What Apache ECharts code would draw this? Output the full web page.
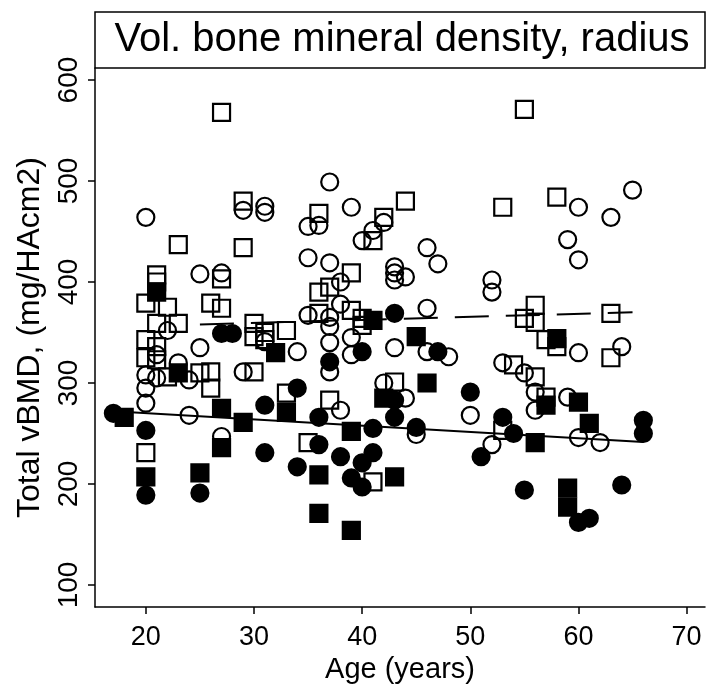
<!DOCTYPE html>
<html>
<head>
<meta charset="utf-8">
<script src="https://cdn.jsdelivr.net/npm/echarts@6/dist/echarts.min.js"></script>
<style>
  html, body { margin: 0; padding: 0; background: #fff; }
  #chart { width: 706px; height: 687px; }
</style>
</head>
<body>
<div id="chart"></div>
<script>
// [age, vBMD] for each group
var openCircles = [
    [20, 464], [29, 471], [31, 475], [31, 469], [25, 408], [27, 409], [22, 352], [25, 335],
    [21, 328], [20, 308], [20, 295], [20, 280], [21, 305], [23, 320], [24, 303], [29, 311],
    [24, 268], [27, 247], [31, 341], [37, 499], [39, 474], [35, 455], [36, 456], [42, 459],
    [41, 451], [40, 441], [46, 434], [47, 418], [35, 424], [37, 419], [38, 400], [43, 415],
    [43, 409], [43, 402], [44, 405], [38, 378], [35, 367], [37, 365], [37, 356], [46, 374],
    [37, 340], [39, 345], [34, 331], [37, 311], [39, 328], [43, 335], [46, 331], [48, 326],
    [42, 300], [44, 285], [38, 273], [45, 249], [65, 491], [63, 464], [60, 474], [59, 442],
    [60, 422], [52, 402], [52, 390], [60, 330], [64, 336], [53, 320], [55, 310], [56, 291],
    [56, 273], [59, 286], [50, 268], [60, 246], [62, 241], [52, 239]
];
var openSquares = [
    [27, 568], [55, 571], [29, 480], [23, 437], [29, 434], [21, 407], [21, 400], [27, 403],
    [20, 379], [22, 375], [26, 379], [27, 374], [21, 359], [23, 359], [30, 359], [30, 346],
    [31, 343], [20, 343], [21, 336], [20, 325], [21, 323], [22, 306], [25, 310], [26, 311],
    [26, 295], [30, 311], [20, 231], [36, 468], [44, 480], [42, 464], [41, 441], [39, 409],
    [36, 390], [37, 395], [36, 369], [39, 372], [40, 364], [40, 357], [33, 352], [31, 350],
    [43, 301], [33, 290], [37, 283], [35, 241], [41, 202], [53, 474], [58, 484], [56, 377],
    [55, 364], [56, 360], [63, 369], [57, 343], [58, 336], [63, 325], [54, 318], [56, 306],
    [57, 286], [53, 253]
];
var filledCircles = [
    [17, 270], [20, 253], [20, 189], [25, 191], [27, 349], [28, 349], [31, 278], [31, 231],
    [37, 321], [40, 331], [34, 295], [43, 283], [36, 266], [43, 266], [45, 256], [41, 255],
    [36, 239], [34, 217], [38, 227], [41, 231], [40, 221], [39, 206], [40, 197], [43, 369],
    [47, 331], [50, 291], [53, 266], [54, 250], [51, 227], [66, 263], [66, 250], [55, 194],
    [60, 162], [61, 166], [64, 199]
];
var filledSquares = [
    [18, 266], [21, 390], [23, 310], [27, 275], [29, 261], [27, 236], [20, 207], [25, 211],
    [32, 330], [33, 271], [41, 362], [45, 346], [46, 300], [42, 285], [39, 252], [36, 209],
    [43, 207], [36, 171], [39, 154], [58, 344], [57, 278], [60, 281], [61, 260], [56, 241],
    [59, 196], [59, 177]
];
// fitted lines, end points
var dashedFit = [[25, 358], [65, 370]];
var solidFit = [[17, 272], [66, 241.5]];

var xTicks = [20, 30, 40, 50, 60, 70];
var yTicks = [100, 200, 300, 400, 500, 600];

var myChart = echarts.init(document.getElementById('chart'));

var font = 'Liberation Sans, Arial, sans-serif';

function scatter(data, symbol, filled) {
    return {
        type: 'scatter',
        data: data,
        symbol: symbol,
        symbolSize: 17,
        silent: true,
        itemStyle: {
            color: filled ? '#000' : 'rgba(0,0,0,0)',
            borderColor: '#000',
            borderWidth: 2.2,
            opacity: 1
        }
    };
}

var option = {
    backgroundColor: '#fff',
    animation: false,
    title: {
        text: 'Vol. bone mineral density, radius',
        left: 397,
        top: 15,
        textAlign: 'center',
        textStyle: {
            fontFamily: font,
            fontSize: 40,
            fontWeight: 'normal',
            color: '#000'
        }
    },
    graphic: [{
        type: 'rect',
        shape: { x: 95, y: 12, width: 610, height: 56 },
        style: { fill: 'none', stroke: '#000', lineWidth: 1.5 },
        z: 100
    }],
    grid: {
        left: 95,
        right: 1,
        top: 68,
        bottom: 80,
        containLabel: false,
        outerBoundsMode: 'none'
    },
    xAxis: {
        type: 'value',
        min: 15.3,
        max: 71.7,
        name: 'Age (years)',
        nameLocation: 'middle',
        nameGap: 38,
        nameTextStyle: { fontFamily: font, fontSize: 29, color: '#000' },
        splitLine: { show: false },
        axisLine: { show: true, lineStyle: { color: '#000', width: 1.5 } },
        axisTick: { show: true, length: 7, customValues: xTicks, lineStyle: { color: '#000', width: 1.5 } },
        axisLabel: { customValues: xTicks, margin: 17, fontFamily: font, fontSize: 27, color: '#000' }
    },
    yAxis: {
        type: 'value',
        min: 78.2,
        max: 611.9,
        name: 'Total vBMD, (mg/HAcm2)',
        nameLocation: 'middle',
        nameGap: 49,
        nameTextStyle: { fontFamily: font, fontSize: 32, color: '#000' },
        splitLine: { show: false },
        axisLine: { show: true, lineStyle: { color: '#000', width: 1.5 } },
        axisTick: { show: true, length: 7, customValues: yTicks, lineStyle: { color: '#000', width: 1.5 } },
        axisLabel: { customValues: yTicks, rotate: 90, margin: 12, fontFamily: font, fontSize: 28, color: '#000' }
    },
    series: [
        scatter(openCircles, 'circle', false),
        scatter(openSquares, 'rect', false),
        scatter(filledCircles, 'circle', true),
        scatter(filledSquares, 'rect', true),
        {
            type: 'line',
            data: dashedFit,
            showSymbol: false,
            silent: true,
            lineStyle: { color: '#000', width: 2, type: [34, 17] },
            z: 3
        },
        {
            type: 'line',
            data: solidFit,
            showSymbol: false,
            silent: true,
            lineStyle: { color: '#000', width: 2 },
            z: 3
        }
    ]
};

myChart.setOption(option);
</script>
</body>
</html>
